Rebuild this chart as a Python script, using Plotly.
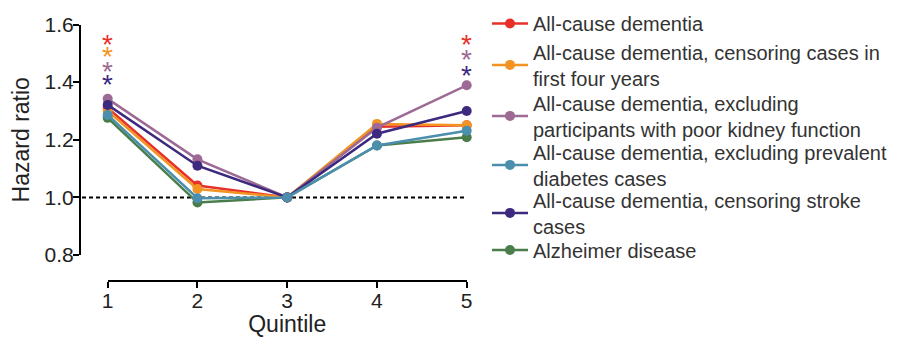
import plotly.graph_objects as go

quintiles = [1, 2, 3, 4, 5]
tick_labels = ["1", "2", "3", "4", "5"]
y_ticks = [0.8, 1.0, 1.2, 1.4, 1.6]
y_tick_labels = ["0.8", "1.0", "1.2", "1.4", "1.6"]

names = [
    "All-cause dementia",
    "All-cause dementia, censoring cases in<br>first four years",
    "All-cause dementia, excluding<br>participants with poor kidney function",
    "All-cause dementia, excluding prevalent<br>diabetes cases",
    "All-cause dementia, censoring stroke<br>cases",
    "Alzheimer disease",
]
all_cause = [1.31, 1.041, 1.0, 1.245, 1.25]
censor_4y = [1.30, 1.029, 1.0, 1.255, 1.25]
excl_kidney = [1.342, 1.132, 1.0, 1.242, 1.389]
excl_diabetes = [1.286, 0.997, 1.0, 1.18, 1.231]
censor_stroke = [1.321, 1.110, 1.0, 1.221, 1.30]
alzheimer = [1.276, 0.982, 1.0, 1.18, 1.209]

colors = ["#e8302a", "#f39422", "#9c6a94", "#4b8fad", "#3d2a7f", "#4a7d4a"]
series = [all_cause, censor_4y, excl_kidney, excl_diabetes, censor_stroke, alzheimer]

# significance stars: (quintile, y position, series index)
star_x = [1, 1, 1, 1, 5, 5, 5]
star_y = [1.544, 1.500, 1.450, 1.404, 1.544, 1.492, 1.434]
star_series = [0, 1, 2, 4, 0, 2, 4]

FONT = "Arial, Liberation Sans, Helvetica, sans-serif"

# one legend box per series so the entries are spaced like the original
legend_ids = ["legend", "legend2", "legend3", "legend4", "legend5", "legend6"]
legend_tops = [1.0593, 0.9541, 0.7652, 0.5837, 0.4059, 0.2207]

fig = go.Figure()
draw_order = [5, 0, 1, 2, 4, 3]
for i in draw_order:
    fig.add_trace(go.Scatter(
        x=quintiles, y=series[i], name=names[i], mode="lines+markers",
        line=dict(color=colors[i], width=2.5),
        marker=dict(color=colors[i], size=10),
        cliponaxis=False, legend=legend_ids[i],
    ))

fig.add_shape(type="line", xref="paper", yref="y", x0=0.005, x1=0.9668, y0=1.0, y1=1.0,
              line=dict(color="black", width=2, dash="4px,3px"), layer="below")

for sx, sy, si in zip(star_x, star_y, star_series):
    fig.add_annotation(x=sx, y=sy, xref="x", yref="y", text="*", showarrow=False,
                       font=dict(family=FONT, size=28, color=colors[si]), yshift=-3.5)

legends = {}
for lid, top in zip(legend_ids, legend_tops):
    legends[lid] = dict(x=1.0175, y=top, xanchor="left", yanchor="top",
                        font=dict(family=FONT, size=20, color="#333"),
                        bgcolor="rgba(0,0,0,0)", itemwidth=36)

# page body has an 8px default margin: figure sized to fit the 912x337 window
fig.update_layout(
    width=904, height=329,
    margin=dict(l=72, r=432, t=12, b=47, autoexpand=False),
    paper_bgcolor="white", plot_bgcolor="white",
    font=dict(family=FONT, color="#222"),
    showlegend=True,
    xaxis=dict(domain=[0.06925, 0.96675], range=[1, 5], anchor="free", position=0.0333,
               tickvals=quintiles, ticktext=tick_labels, showline=True, linecolor="black",
               linewidth=2, ticks="outside", ticklen=6, tickwidth=2, tickcolor="black",
               showgrid=False, zeroline=False, tickfont=dict(size=21, color="#222"),
               title=dict(text="Quintile", font=dict(size=23, color="#222"), standoff=4)),
    yaxis=dict(domain=[0.1296, 0.9833], range=[0.8, 1.6], anchor="free", position=0,
               tickvals=y_ticks, ticktext=y_tick_labels, showline=True, linecolor="black",
               linewidth=2, ticks="outside", ticklen=6, tickwidth=2, tickcolor="black",
               showgrid=False, zeroline=False, tickfont=dict(size=21, color="#222"),
               title=dict(text="Hazard ratio", font=dict(size=23, color="#222"), standoff=10)),
    **legends,
)
try:
    fig.update_xaxes(ticklabelstandoff=-5)
    fig.update_yaxes(ticklabelstandoff=-5)
except Exception:
    pass

fig.write_html("out.html")
